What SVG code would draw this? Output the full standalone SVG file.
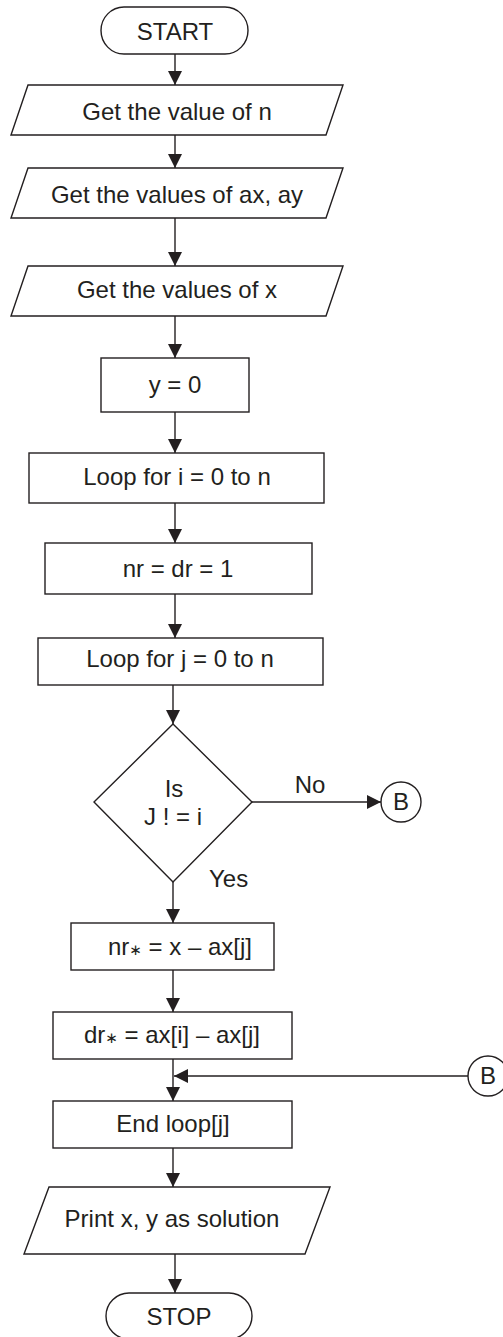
<svg xmlns="http://www.w3.org/2000/svg" width="503" height="1337" viewBox="0 0 503 1337">
<style>
.s{fill:#fff;stroke:#231f20;stroke-width:1.4}
.t{font-family:"Liberation Sans",Arial,sans-serif;font-size:24px;fill:#231f20;text-anchor:middle}
.st{font-family:"DejaVu Sans",sans-serif;font-size:15px}
.c{fill:none;stroke:#231f20;stroke-width:1.4}
</style>
<defs>
<marker id="ah" markerUnits="userSpaceOnUse" markerWidth="14" markerHeight="14" viewBox="0 0 14 14" refX="14" refY="7" orient="auto">
<path d="M0,0 L14,7 L0,14 Z" fill="#231f20"/>
</marker>
</defs>
<rect width="503" height="1337" fill="#fff"/>
<g id="connectors">
<line class="c" x1="175" y1="54" x2="175" y2="85" marker-end="url(#ah)"/>
<line class="c" x1="175" y1="135" x2="175" y2="168" marker-end="url(#ah)"/>
<line class="c" x1="175" y1="218" x2="175" y2="266" marker-end="url(#ah)"/>
<line class="c" x1="175" y1="316" x2="175" y2="358" marker-end="url(#ah)"/>
<line class="c" x1="175" y1="412" x2="175" y2="453" marker-end="url(#ah)"/>
<line class="c" x1="175" y1="503" x2="175" y2="543" marker-end="url(#ah)"/>
<line class="c" x1="175" y1="594" x2="175" y2="638" marker-end="url(#ah)"/>
<line class="c" x1="173" y1="685" x2="173" y2="724" marker-end="url(#ah)"/>
<line class="c" x1="173" y1="882" x2="173" y2="923" marker-end="url(#ah)"/>
<line class="c" x1="252" y1="802" x2="381" y2="802" marker-end="url(#ah)"/>
<line class="c" x1="173" y1="970" x2="173" y2="1012" marker-end="url(#ah)"/>
<line class="c" x1="173" y1="1059" x2="173" y2="1101" marker-end="url(#ah)"/>
<line class="c" x1="468" y1="1076" x2="174" y2="1076" marker-end="url(#ah)"/>
<line class="c" x1="173" y1="1148" x2="173" y2="1187" marker-end="url(#ah)"/>
<line class="c" x1="175" y1="1254" x2="175" y2="1293" marker-end="url(#ah)"/>
<text class="t" x="310" y="793">No</text>
<text class="t" x="209" y="887" style="text-anchor:start">Yes</text>
</g>
<g id="start">
<rect class="s" x="101" y="7" width="147" height="47" rx="23" ry="23.5"/>
<text class="t" x="175" y="40">START</text>
</g>
<g id="in-n">
<polygon class="s" points="28,85 343,85 326,135 11,135"/>
<text class="t" x="177" y="120">Get the value of n</text>
</g>
<g id="in-axay">
<polygon class="s" points="28,168 343,168 326,218 11,218"/>
<text class="t" x="177" y="203">Get the values of ax, ay</text>
</g>
<g id="in-x">
<polygon class="s" points="28,266 343,266 326,316 11,316"/>
<text class="t" x="177" y="298">Get the values of x</text>
</g>
<g id="y0">
<rect class="s" x="101" y="358" width="148" height="54"/>
<text class="t" x="175" y="393">y = 0</text>
</g>
<g id="loop-i">
<rect class="s" x="29" y="453" width="295" height="50"/>
<text class="t" x="177" y="485">Loop for i = 0 to n</text>
</g>
<g id="nrdr">
<rect class="s" x="45" y="543" width="267" height="51"/>
<text class="t" x="178" y="577">nr = dr = 1</text>
</g>
<g id="loop-j">
<rect class="s" x="38" y="638" width="285" height="47"/>
<text class="t" x="180" y="667">Loop for j = 0 to n</text>
</g>
<g id="decision">
<polygon class="s" points="173,724 252,802 173,882 94,802"/>
<text class="t" x="174" y="797">Is</text>
<text class="t" x="173" y="825">J ! = i</text>
</g>
<g id="conn-b1">
<circle class="s" cx="401" cy="802" r="20"/>
<text class="t" x="401" y="810">B</text>
</g>
<g id="nr-mul">
<rect class="s" x="71" y="923" width="203" height="47"/>
<text class="t" x="180" y="955">nr<tspan class="st">∗</tspan> = x – ax[j]</text>
</g>
<g id="dr-mul">
<rect class="s" x="53" y="1012" width="239" height="47"/>
<text class="t" x="172" y="1043">dr<tspan class="st">∗</tspan> = ax[i] – ax[j]</text>
</g>
<g id="conn-b2">
<circle class="s" cx="488" cy="1076" r="20"/>
<text class="t" x="488" y="1084">B</text>
</g>
<g id="end-loop">
<rect class="s" x="53" y="1101" width="239" height="47"/>
<text class="t" x="173" y="1132">End loop[j]</text>
</g>
<g id="print">
<polygon class="s" points="49,1187 330,1187 305,1254 24,1254"/>
<text class="t" x="172" y="1227">Print x, y as solution</text>
</g>
<g id="stop">
<rect class="s" x="106" y="1293" width="146" height="46" rx="23" ry="23"/>
<text class="t" x="179" y="1325">STOP</text>
</g>
</svg>
